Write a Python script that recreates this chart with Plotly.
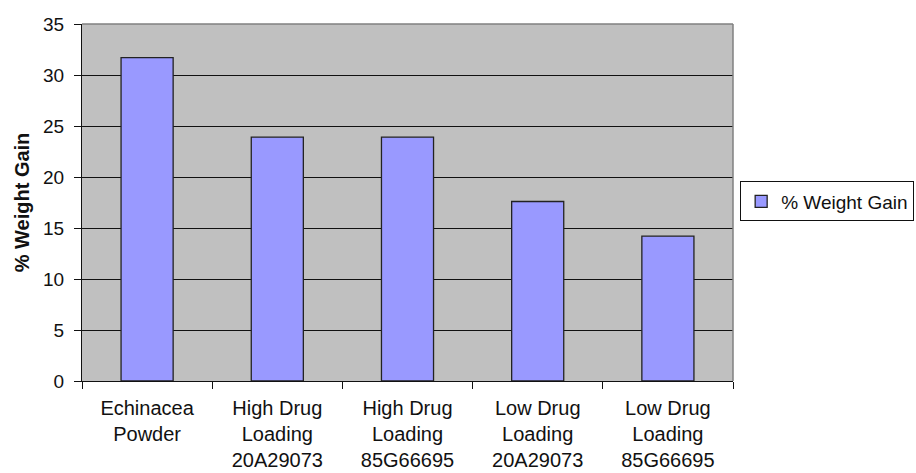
import plotly.graph_objects as go

# Weight gain per formulation
categories = [
    "Echinacea<br>Powder",
    "High Drug<br>Loading<br>20A29073",
    "High Drug<br>Loading<br>85G66695",
    "Low Drug<br>Loading<br>20A29073",
    "Low Drug<br>Loading<br>85G66695",
]
weight_gain = [31.7, 23.9, 23.9, 17.6, 14.2]
series_name = "% Weight Gain"
y_ticks = [0, 5, 10, 15, 20, 25, 30, 35]

FONT = "Liberation Sans, Arial, sans-serif"

fig = go.Figure()
fig.add_trace(go.Bar(
    x=categories,
    y=weight_gain,
    name=series_name,
    marker=dict(color="#9999FF", line=dict(color="#222222", width=1.3)),
    showlegend=True,
))

fig.update_layout(
    width=916,
    height=473,
    margin=dict(l=82, r=183, t=24, b=92, autoexpand=False),
    paper_bgcolor="white",
    plot_bgcolor="#C0C0C0",
    bargap=0.6,
    font=dict(family=FONT, color="#111111"),
    showlegend=True,
    legend=dict(
        x=1.011, xanchor="left",
        y=0.503, yanchor="middle",
        bordercolor="#111111", borderwidth=1,
        bgcolor="white",
        font=dict(family=FONT, size=19, color="#111111"),
        itemwidth=30,
    ),
)

fig.update_xaxes(
    type="category",
    showline=True, linecolor="#111111", linewidth=1,
    ticks="outside", ticklen=7, tickcolor="#111111",
    tickson="boundaries",
    tickfont=dict(family=FONT, size=20, color="#111111"),
    ticklabelstandoff=9,
    showgrid=False,
    mirror=False,
)

fig.update_yaxes(
    range=[0, 35],
    tickvals=y_ticks,
    showline=True, linecolor="#111111", linewidth=1,
    ticks="outside", ticklen=7, tickcolor="#111111",
    tickfont=dict(family=FONT, size=19, color="#111111"),
    ticklabelstandoff=6,
    showgrid=True, gridcolor="#111111", gridwidth=1,
    zeroline=False,
    title=dict(text="<b>% Weight Gain</b>",
               font=dict(family=FONT, size=20, color="#111111"),
               standoff=8),
)

# Grey frame on the top and right edges of the plot area
fig.add_shape(type="line", xref="paper", yref="paper",
              x0=0, x1=1, y0=1, y1=1,
              line=dict(color="#808080", width=1.5))
fig.add_shape(type="line", xref="paper", yref="paper",
              x0=1, x1=1, y0=0, y1=1,
              line=dict(color="#808080", width=1.5))

fig.write_html("out.html")
